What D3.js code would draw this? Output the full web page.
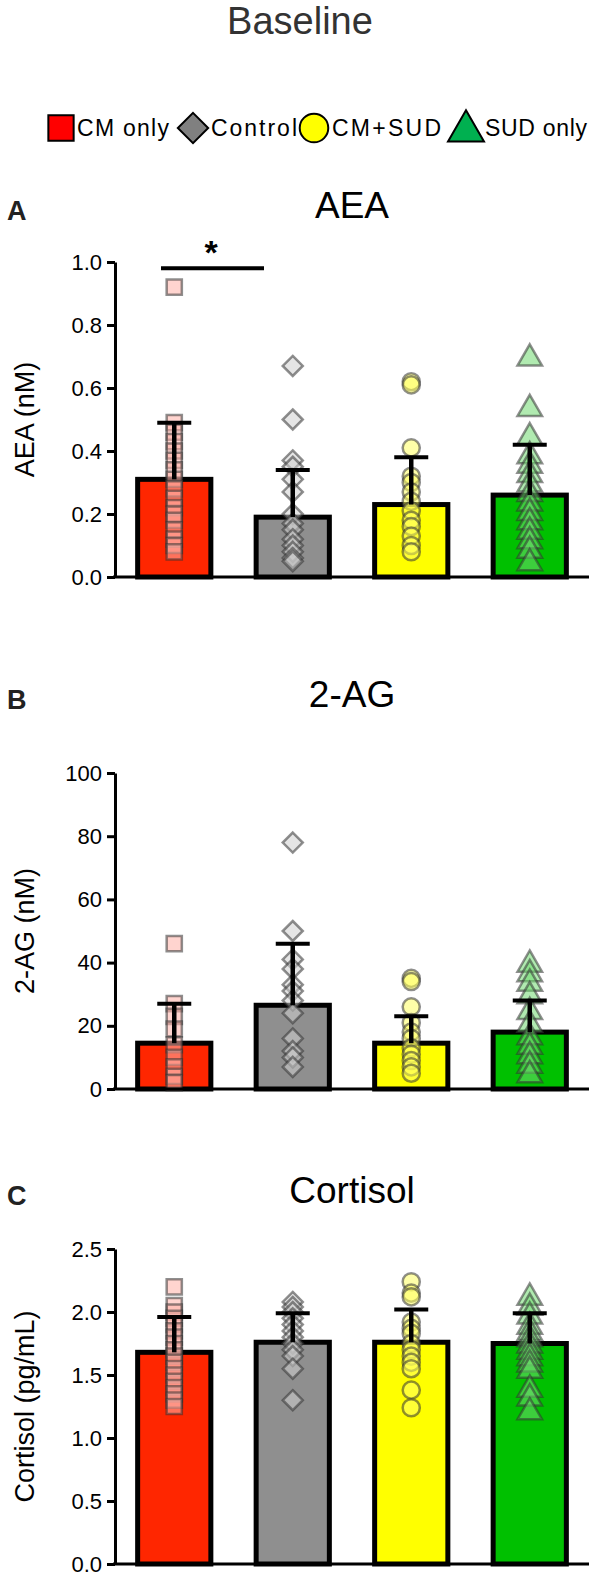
<!DOCTYPE html>
<html><head><meta charset="utf-8">
<script src="https://cdn.jsdelivr.net/npm/d3@7"></script>
<style>body{margin:0;background:#fff}text{font-family:Arial,"Liberation Sans",sans-serif}</style>
</head><body><svg id="c" width="589" height="1575"></svg>
<script>
const groups = ["CM only","Control","CM+SUD","SUD only"];
const barFill = ["#ff2600","#8f8f8f","#ffff00","#00c000"];
const ptFill = ["#ffb0a8","#d0d0d0","#ffff60","#70d870"];
const legendFill = ["#ff0000","#808080","#ffff00","#00b050"];
const diamond = {draw(ctx,size){const r=Math.sqrt(size/2);ctx.moveTo(0,-r);ctx.lineTo(r,0);ctx.lineTo(0,r);ctx.lineTo(-r,0);ctx.closePath();}};
const shapes = [d3.symbolSquare,diamond,d3.symbolCircle,d3.symbolTriangle];

const aeaMean = [0.31,0.19,0.23,0.26];
const aeaErr = [0.49,0.34,0.38,0.42];
const aeaPts = [
 [0.92,0.49,0.46,0.43,0.40,0.37,0.34,0.31,0.28,0.25,0.22,0.20,0.18,0.15,0.12,0.10,0.08],
 [0.67,0.50,0.37,0.35,0.31,0.27,0.20,0.17,0.15,0.12,0.10,0.08,0.06,0.05],
 [0.62,0.61,0.41,0.32,0.30,0.27,0.24,0.21,0.18,0.16,0.13,0.10,0.08],
 [0.70,0.54,0.45,0.39,0.36,0.33,0.30,0.27,0.24,0.21,0.18,0.15,0.12,0.09,0.05]];
const agMean = [14.5,26.5,14.5,18];
const agErr = [27,46,23,28];
const agPts = [
 [46,27,23,19,14,10,7,4,2],
 [78,50,41,38,33,31,28,24,16,12,10,7],
 [35,34,26,21,18,16,13,11,9,7,5],
 [40,37,34,30,25,21,17,14,11,8,5]];
const corMean = [1.68,1.76,1.76,1.75];
const corErr = [1.96,1.99,2.02,1.99];
const corPts = [
 [2.20,2.05,2.0,1.95,1.9,1.85,1.8,1.75,1.7,1.65,1.6,1.55,1.5,1.45,1.4,1.35,1.3,1.25],
 [2.08,2.04,2.0,1.95,1.9,1.85,1.8,1.75,1.7,1.65,1.55,1.3],
 [2.24,2.15,2.12,1.92,1.87,1.83,1.75,1.7,1.65,1.6,1.55,1.38,1.24],
 [2.13,2.05,1.98,1.9,1.85,1.8,1.75,1.7,1.65,1.6,1.55,1.4,1.33,1.22]];
const aeaTicks = [0,0.2,0.4,0.6,0.8,1.0];
const agTicks = [0,20,40,60,80,100];
const corTicks = [0,0.5,1.0,1.5,2.0,2.5];

const svg = d3.select("#c");
svg.append("text").attr("x",300).attr("y",34).attr("text-anchor","middle")
  .attr("font-size",38).attr("fill","#333").text("Baseline");

// legend
const legX = [61,193,314,466], legTxt=[77,211,332,485];
groups.forEach((g,i)=>{
  svg.append("path").attr("d",d3.symbol().type(shapes[i]).size(i==3?560:(i==1?460:640))())
    .attr("transform",`translate(${legX[i]},${i==3?131:128})`)
    .attr("fill",legendFill[i]).attr("stroke","#000").attr("stroke-width",2);
  svg.append("text").attr("x",legTxt[i]).attr("y",136).attr("font-size",23).attr("textLength",i==0?92:(i==1?86:(i==2?109:102))).text(g);
});

const x = d3.scaleBand().domain(groups).range([115,589]).paddingInner(0.34).paddingOuter(0.17);

function panel(letter,title,titleY,y0,y1,max,ticks,fmt,ylab,means,errs,pts){
  const y = d3.scaleLinear().domain([0,max]).range([y0,y1]);
  svg.append("text").attr("x",7).attr("y",titleY+2).attr("font-size",27).attr("font-weight","bold").attr("fill","#222").text(letter);
  svg.append("text").attr("x",352).attr("y",titleY).attr("text-anchor","middle").attr("font-size",37).text(title);
  const ax = svg.append("g").attr("transform","translate(115,0)")
    .call(d3.axisLeft(y).tickValues(ticks).tickFormat(fmt).tickSize(8).tickSizeOuter(0));
  ax.select(".domain").attr("stroke-width",3);
  ax.selectAll(".tick line").attr("stroke-width",3);
  ax.selectAll(".tick text").attr("font-size",22).attr("font-family","Arial,'Liberation Sans',sans-serif").attr("dx","-2");
  svg.append("text").attr("transform",`translate(34,${(y0+y1)/2}) rotate(-90)`).attr("text-anchor","middle")
    .attr("font-size",27).text(ylab);
  const g = svg.append("g");
  groups.forEach((gr,i)=>{
    const bx = x(gr), bw = x.bandwidth(), cx = bx+bw/2;
    g.append("rect").attr("x",bx+2.5).attr("y",y(means[i])).attr("width",bw-5).attr("height",y0-y(means[i]))
      .attr("fill",barFill[i]).attr("stroke","#000").attr("stroke-width",5);
    pts[i].forEach(v=>{
      g.append("path").attr("d",d3.symbol().type(shapes[i]).size(i==3?260:(i==1?200:230))())
        .attr("transform",`translate(${cx},${y(v)+(i==3?2:0)})`)
        .attr("fill",ptFill[i]).attr("fill-opacity",0.55).attr("stroke","#333").attr("stroke-opacity",0.55).attr("stroke-width",2.5);
    });
    g.append("line").attr("x1",cx).attr("x2",cx).attr("y1",y(means[i])).attr("y2",y(errs[i])).attr("stroke","#000").attr("stroke-width",4.5);
    g.append("line").attr("x1",cx-17).attr("x2",cx+17).attr("y1",y(errs[i])).attr("y2",y(errs[i])).attr("stroke","#000").attr("stroke-width",4);
  });
  svg.append("line").attr("x1",113).attr("x2",589).attr("y1",y0).attr("y2",y0).attr("stroke","#000").attr("stroke-width",3);
  return y;
}
const yA = panel("A","AEA",218,577,262,1.0,aeaTicks,d3.format(".1f"),"AEA (nM)",aeaMean,aeaErr,aeaPts);
panel("B","2-AG",707,1089,773,100,agTicks,d3.format("d"),"2-AG (nM)",agMean,agErr,agPts);
panel("C","Cortisol",1203,1564,1249,2.5,corTicks,d3.format(".1f"),"Cortisol (pg/mL)",corMean,corErr,corPts);

// significance
const sigY = yA(0.98);
svg.append("line").attr("x1",161).attr("x2",264).attr("y1",sigY).attr("y2",sigY).attr("stroke","#000").attr("stroke-width",4);
svg.append("text").attr("x",211).attr("y",sigY-4).attr("text-anchor","middle").attr("font-size",34).attr("font-weight","bold").text("*");
</script></body></html>
